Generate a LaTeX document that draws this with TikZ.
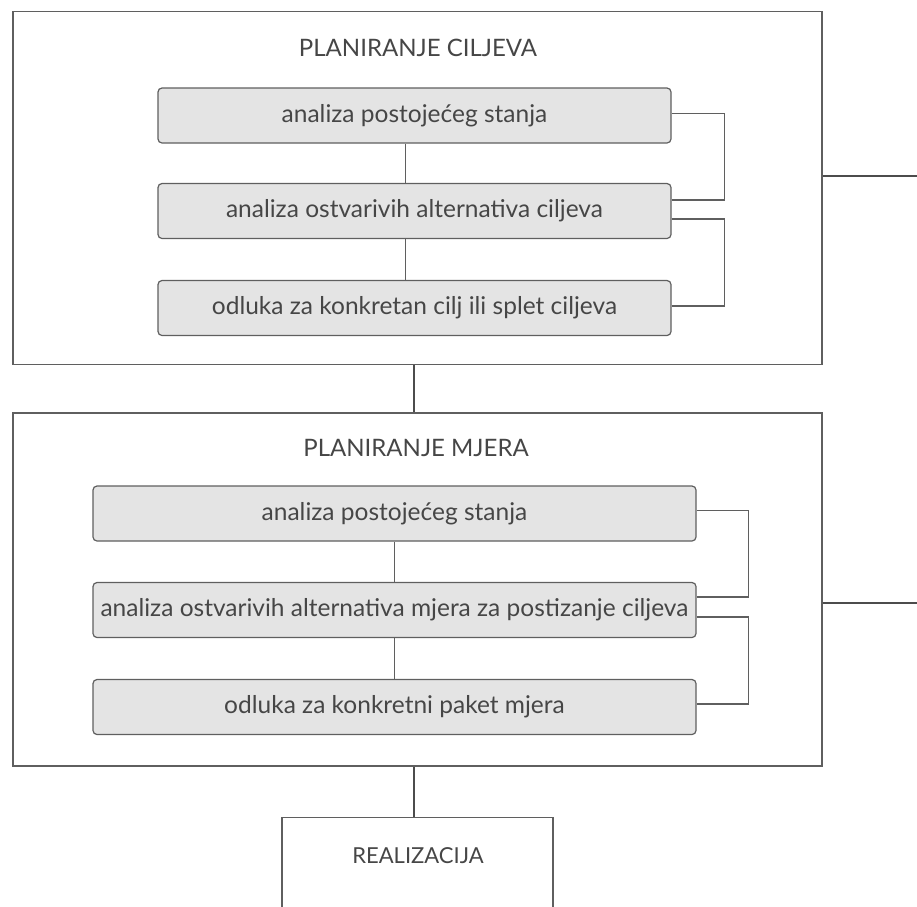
\documentclass[tikz,border=0pt]{standalone}
\usepackage{fontspec}
\setmainfont{Lato}
\usepackage{xcolor}
\definecolor{linegray}{RGB}{95, 95, 95}
\definecolor{textgray}{RGB}{70, 70, 70}
\definecolor{boxfill}{RGB}{228, 228, 228}

\begin{document}
\begin{tikzpicture}[x=1pt,y=-1pt,
    faza/.style={draw=linegray,line width=1.3pt,minimum width=809pt,minimum height=353pt,inner sep=0pt},
    korak/.style={draw=linegray,line width=1.2pt,fill=boxfill,rounded corners=4pt,minimum height=55pt,inner sep=0pt,text=textgray,font=\fontsize{24.5}{28}\selectfont},
    naslov/.style={text=textgray,font=\fontsize{24}{28}\selectfont},
    veza/.style={linegray,line width=1.2pt},
    jaka/.style={linegray!80!black,line width=2pt}]
    \useasboundingbox (0,0) rectangle (917,906);

    % planiranje ciljeva
    \node[faza] (ciljevi) at (417.5,188) {};
    \node[naslov] (nc) at (418,48) {PLANIRANJE CILJEVA};
    \node[korak,minimum width=513pt] (c1) at (414.5,115.5) {analiza postojećeg stanja};
    \node[korak,minimum width=513pt] (c2) at (414.5,211) {analiza ostvarivih alternativa ciljeva};
    \node[korak,minimum width=513pt] (c3) at (414.5,308) {odluka za konkretan cilj ili splet ciljeva};
    \draw[veza] ([xshift=-9pt]c1.south) -- ([xshift=-9pt]c2.north);
    \draw[veza] ([xshift=-9pt]c2.south) -- ([xshift=-9pt]c3.north);
    \draw[veza] ([yshift=2pt]c1.east) -- ++(53,0) |- ([yshift=11pt]c2.east);
    \draw[veza] ([yshift=-8pt]c2.east) -- ++(53,0) |- ([yshift=2pt]c3.east);

    % planiranje mjera
    \node[faza] (mjere) at (417.5,589.5) {};
    \node[naslov] (nm) at (416,448) {PLANIRANJE MJERA};
    \node[korak,minimum width=603pt] (m1) at (394.5,513.5) {analiza postojećeg stanja};
    \node[korak,minimum width=603pt] (m2) at (394.5,610) {analiza ostvarivih alternativa mjera za postizanje ciljeva};
    \node[korak,minimum width=603pt] (m3) at (394.5,707) {odluka za konkretni paket mjera};
    \draw[veza] (m1.south) -- (m2.north);
    \draw[veza] (m2.south) -- (m3.north);
    \draw[veza] ([yshift=3pt]m1.east) -- ++(52,0) |- ([yshift=13pt]m2.east);
    \draw[veza] ([yshift=-7pt]m2.east) -- ++(52,0) |- ([yshift=3pt]m3.east);

    % realizacija
    \node[draw=linegray,line width=1.3pt,minimum width=271pt,minimum height=100pt,anchor=north,inner sep=0pt] (real) at (417.5,817) {};
    \node[naslov,font=\fontsize{22}{26}\selectfont] (nr) at (418,856) {REALIZACIJA};

    % veze medju fazama
    \coordinate (izlazc) at (917,176);
    \coordinate (izlazm) at (917,603);
    \draw[jaka] ([xshift=-4pt]ciljevi.south) -- ([xshift=-4pt]mjere.north);
    \draw[jaka] ([xshift=-4pt]mjere.south) -- ([xshift=-4pt]real.north);
    \draw[jaka] (ciljevi.east |- izlazc) -- (izlazc);
    \draw[jaka] (mjere.east |- izlazm) -- (izlazm);
\end{tikzpicture}
\end{document}
